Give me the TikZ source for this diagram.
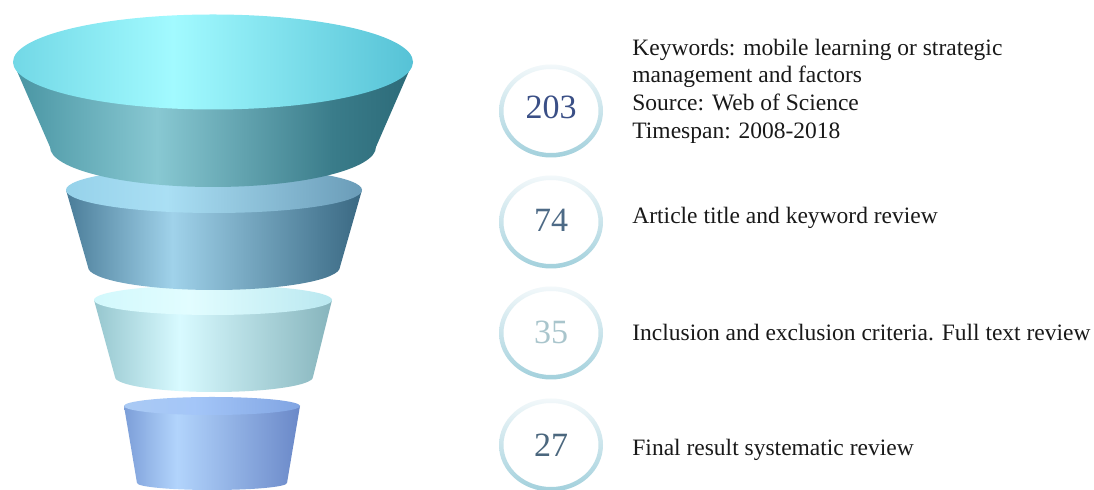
\documentclass[tikz,border=0pt]{standalone}
\usepackage{fontspec}
\setmainfont{Liberation Serif}
\definecolor{sAl}{HTML}{4894A2}\definecolor{sAm}{HTML}{88C8D2}\definecolor{sAr}{HTML}{3A7C8A}\definecolor{sAe}{HTML}{2C6A78}
\definecolor{tAl}{HTML}{72D8E6}\definecolor{tAm}{HTML}{A2FAFF}\definecolor{tAr}{HTML}{56C2D6}
\definecolor{sBl}{HTML}{4A7C98}\definecolor{sBm}{HTML}{A0D2EA}\definecolor{sBr}{HTML}{4E7E98}\definecolor{sBe}{HTML}{3A6882}
\definecolor{tBl}{HTML}{96D2EA}\definecolor{tBm}{HTML}{AADFF4}\definecolor{tBr}{HTML}{6A9CB8}
\definecolor{sCl}{HTML}{96C6CE}\definecolor{sCm}{HTML}{D8FAFF}\definecolor{sCr}{HTML}{86B4BC}
\definecolor{tCl}{HTML}{D2F8FC}\definecolor{tCm}{HTML}{E2FDFF}\definecolor{tCr}{HTML}{BAE8F0}
\definecolor{sDl}{HTML}{7C9ED8}\definecolor{sDm}{HTML}{B2D4FC}\definecolor{sDr}{HTML}{6A88C8}
\definecolor{tDl}{HTML}{AACAF4}\definecolor{tDm}{HTML}{A4C6F8}\definecolor{tDr}{HTML}{80A4E2}
\definecolor{ringlo}{HTML}{A2D0DC}
\definecolor{ringhi}{HTML}{F2F8FA}
\definecolor{numA}{HTML}{3A4F86}
\definecolor{numB}{HTML}{4D6A86}
\definecolor{numC}{HTML}{A9C5CC}
\definecolor{numD}{HTML}{4B677E}
% horizontal shadings for the funnel sides (25bp..75bp spans the shape)
\pgfdeclarehorizontalshading{sideA}{100bp}{color(0bp)=(sAl); color(25bp)=(sAl); color(43bp)=(sAm); color(65bp)=(sAr); color(75bp)=(sAe); color(100bp)=(sAe)}
\pgfdeclarehorizontalshading{topA}{100bp}{color(0bp)=(tAl); color(25bp)=(tAl); color(45bp)=(tAm); color(75bp)=(tAr); color(100bp)=(tAr)}
\pgfdeclarehorizontalshading{sideB}{100bp}{color(0bp)=(sBl); color(25bp)=(sBl); color(43bp)=(sBm); color(68bp)=(sBr); color(75bp)=(sBe); color(100bp)=(sBe)}
\pgfdeclarehorizontalshading{topB}{100bp}{color(0bp)=(tBl); color(25bp)=(tBl); color(42bp)=(tBm); color(75bp)=(tBr); color(100bp)=(tBr)}
\pgfdeclarehorizontalshading{sideC}{100bp}{color(0bp)=(sCl); color(25bp)=(sCl); color(43bp)=(sCm); color(75bp)=(sCr); color(100bp)=(sCr)}
\pgfdeclarehorizontalshading{topC}{100bp}{color(0bp)=(tCl); color(25bp)=(tCl); color(45bp)=(tCm); color(75bp)=(tCr); color(100bp)=(tCr)}
\pgfdeclarehorizontalshading{sideD}{100bp}{color(0bp)=(sDl); color(25bp)=(sDl); color(40bp)=(sDm); color(75bp)=(sDr); color(100bp)=(sDr)}
\pgfdeclarehorizontalshading{topD}{100bp}{color(0bp)=(tDl); color(25bp)=(tDl); color(45bp)=(tDm); color(75bp)=(tDr); color(100bp)=(tDr)}
\begin{document}
\begin{tikzpicture}[x=0.5pt,y=0.5pt,
  ring/.style={even odd rule, top color=ringhi, bottom color=ringlo, draw=none},
  count/.style={font=\fontsize{17}{19}\selectfont, inner sep=0pt},
  note/.style={font=\fontsize{11.75}{13.85}\selectfont, anchor=west, align=left, inner sep=0pt, text=black!90}]
\useasboundingbox (0,0) rectangle (1094,-490);
\fill[white] (0,0) rectangle (1094,-490);

% funnel pieces, drawn from the bottom up
% piece 4
\shade[shading=sideD] (124,-406) -- (137,-483) arc[start angle=180,end angle=360,x radius=75,y radius=7] -- (300,-406) -- cycle;
\shade[shading=topD] (212,-406) ellipse [x radius=88, y radius=9];
% piece 3
\shade[shading=sideC] (94,-300) -- (115,-377) arc[start angle=180,end angle=360,x radius=99,y radius=15] -- (332,-300) -- cycle;
\shade[shading=topC] (213,-300) ellipse [x radius=119, y radius=15];
% piece 2
\shade[shading=sideB] (66,-190) -- (88,-267) arc[start angle=180,end angle=360,x radius=126,y radius=23] -- (362,-190) -- cycle;
\shade[shading=topB] (214,-190) ellipse [x radius=148, y radius=23];
% piece 1
\shade[shading=sideA] (13,-62) -- (50,-147) arc[start angle=180,end angle=360,x radius=163,y radius=40] -- (413,-62) -- cycle;
\shade[shading=topA] (213,-62) ellipse [x radius=200, y radius=47.5];

% count rings
\foreach \y in {111,222,333,445}{
  \shade[ring] (551,-\y) ellipse [x radius=52, y radius=46.5] (551,-\y) ellipse [x radius=47.5, y radius=42];
}
\node[count, text=numA] (n203) at (551,-107) {203};
\node[count, text=numB] (n74) at (551,-220) {74};
\node[count, text=numC] (n35) at (551,-332) {35};
\node[count, text=numD] (n27) at (551,-445) {27};

% descriptions
\node[note] (t1) at (632,-91) {Keywords: mobile learning or strategic\\management and factors\\Source: Web of Science\\Timespan: 2008-2018};
\node[note] (t2) at (632,-218) {Article title and keyword review};
\node[note] (t3) at (632,-333) {Inclusion and exclusion criteria. Full text review};
\node[note] (t4) at (632,-450) {Final result systematic review};
\end{tikzpicture}
\end{document}
